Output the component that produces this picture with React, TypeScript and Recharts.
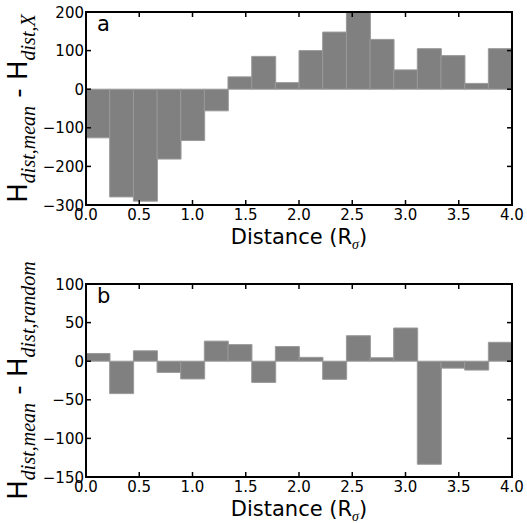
import React from 'react'
import { ComposedChart, Bar, XAxis, YAxis } from 'recharts'

// bin centres (Rσ), 18 bins over 0..4
const binCentres = [
  0.111, 0.333, 0.556, 0.778, 1.0, 1.222, 1.444, 1.667, 1.889,
  2.111, 2.333, 2.556, 2.778, 3.0, 3.222, 3.444, 3.667, 3.889,
]
const diffX = [-126, -279, -290, -181, -133, -56, 32, 85, 17, 100, 148, 200, 129, 50, 105, 87, 15, 105]
const diffRandom = [10, -42, 13.5, -14.5, -23, 26, 21.5, -27.5, 19, 5, -23.5, 33, 4.5, 43, -133.5, -9, -11.5, 24.5]

const xTicks = [0, 0.5, 1, 1.5, 2, 2.5, 3, 3.5, 4]
const yTicksA = [-300, -200, -100, 0, 100, 200]
const yTicksB = [-150, -100, -50, 0, 50, 100]

const FONT = 'DejaVu Sans'
const W = 527
const LEFT = 86
const RIGHT = 512
const TICK = 5
const fmtY = (v: number) => (v < 0 ? `\u2212${Math.abs(v)}` : `${v}`)

interface PanelProps {
  values: number[]
  domain: [number, number]
  yTicks: number[]
  letter: string
  sub1: string
  sub2: string
  height: number
  top: number
  bottom: number
}

function Panel({ values, domain, yTicks, letter, sub1, sub2, height, top, bottom }: PanelProps) {
  const data = binCentres.map((c, i) => ({ c, v: values[i] }))
  const plotBottom = height - bottom - 40
  const cy = (top + plotBottom) / 2

  // matplotlib-style inward ticks on all four sides
  const xTick = (p: any) => (
    <g>
      <line x1={p.x} x2={p.x} y1={plotBottom} y2={plotBottom - TICK} stroke="#000" strokeWidth={1.5} />
      <line x1={p.x} x2={p.x} y1={top} y2={top + TICK} stroke="#000" strokeWidth={1.5} />
      <text x={p.x} y={plotBottom + 15} textAnchor="middle" fontFamily={FONT} fontSize={15} fill="#000">
        {Number(p.payload.value).toFixed(1)}
      </text>
    </g>
  )
  const yTick = (p: any) => (
    <g>
      <line x1={LEFT} x2={LEFT + TICK} y1={p.y} y2={p.y} stroke="#000" strokeWidth={1.5} />
      <line x1={RIGHT} x2={RIGHT - TICK} y1={p.y} y2={p.y} stroke="#000" strokeWidth={1.5} />
      <text x={LEFT - 2} y={p.y + 5.5} textAnchor="end" fontFamily={FONT} fontSize={15} fill="#000">
        {fmtY(p.payload.value)}
      </text>
    </g>
  )

  return (
    <div style={{ position: 'relative', width: W, height }}>
      <ComposedChart
        width={W}
        height={height}
        data={data}
        margin={{ top, right: W - RIGHT, bottom, left: LEFT - 50 }}
        barCategoryGap={0}
        barGap={0}
      >
        <XAxis
          dataKey="c"
          type="number"
          domain={[0, 4]}
          ticks={xTicks}
          interval={0}
          allowDataOverflow
          height={40}
          tick={xTick}
          tickLine={false}
          axisLine={false}
          label={{
            content: () => (
              <text x={(LEFT + RIGHT) / 2} y={plotBottom + 39} textAnchor="middle" fontFamily={FONT} fontSize={21} fill="#000">
                Distance (R
                <tspan fontFamily="Liberation Serif" fontStyle="italic" fontSize={14} dy={5}>σ</tspan>
                <tspan dy={-5}>)</tspan>
              </text>
            ),
          }}
        />
        <YAxis
          type="number"
          domain={domain}
          ticks={yTicks}
          interval={0}
          allowDataOverflow
          width={50}
          tick={yTick}
          tickLine={false}
          axisLine={false}
          label={{
            content: () => (
              <g>
                <text x={LEFT + 11} y={top + 19} fontFamily={FONT} fontSize={21} fill="#000">{letter}</text>
                <text
                  transform={`rotate(-90, 27, ${cy})`}
                  x={27}
                  y={cy}
                  textAnchor="middle"
                  fontFamily={FONT}
                  fontSize={26}
                  fill="#000"
                >
                  H
                  <tspan fontFamily="Liberation Serif" fontStyle="italic" fontSize={20} dy={8}>{sub1}</tspan>
                  <tspan dy={-8}>{' - H'}</tspan>
                  <tspan fontFamily="Liberation Serif" fontStyle="italic" fontSize={20} dy={8}>{sub2}</tspan>
                </text>
              </g>
            ),
          }}
        />
        <Bar
          dataKey="v"
          fill="#808080"
          stroke="#9a9a9a"
          strokeWidth={1}
          isAnimationActive={false}
        />
      </ComposedChart>
      {/* plot frame */}
      <div
        style={{
          position: 'absolute',
          left: LEFT - 1,
          top: top - 1,
          width: RIGHT - LEFT + 2,
          height: plotBottom - top + 2,
          border: '2px solid #000',
          boxSizing: 'border-box',
          pointerEvents: 'none',
        }}
      />
    </div>
  )
}

export default function App() {
  return (
    <div style={{ position: 'absolute', left: 0, top: 0, width: 527, height: 523 }}>
      <Panel values={diffX} domain={[-300, 200]} yTicks={yTicksA} letter="a" sub1="dist,mean" sub2="dist,X" height={260} top={12} bottom={15} />
      <Panel values={diffRandom} domain={[-150, 100]} yTicks={yTicksB} letter="b" sub1="dist,mean" sub2="dist,random" height={263} top={24} bottom={6} />
    </div>
  )
}
